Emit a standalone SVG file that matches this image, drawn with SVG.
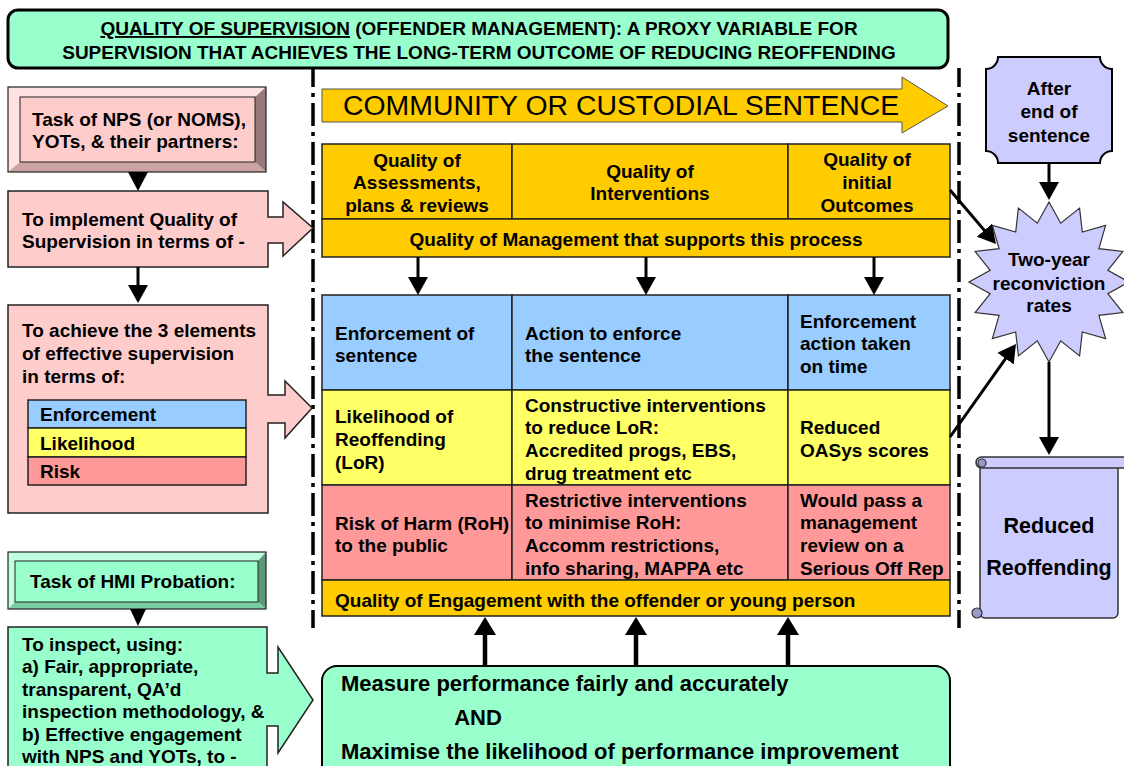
<svg xmlns="http://www.w3.org/2000/svg" width="1124" height="766" viewBox="0 0 1124 766">
<defs>
<style>
text{font-family:"Liberation Sans",Arial,Helvetica,sans-serif;font-weight:bold;font-size:19px;fill:#000}
.c{text-anchor:middle}
.big{font-size:22px}
.rr{font-size:21.5px}
.sent{font-weight:normal;font-size:28.4px}
.mint{fill:#99FFCC}
.pink{fill:#FFCCCC}
.blue{fill:#99CCFF}
.yel{fill:#FFFF66}
.red{fill:#FF9999}
.org{fill:#FFCC00}
.lav{fill:#CCCCFF}
.ol{stroke:#222;stroke-width:1.5}
.conn{stroke:#000;stroke-width:3;fill:none}
.thick{stroke-width:4.5}
.dd{stroke:#000;stroke-width:3.5;fill:none;stroke-dasharray:23 6 4 6;stroke-dashoffset:4}
</style>
<marker id="ah" markerUnits="userSpaceOnUse" viewBox="0 0 18 20" markerWidth="18" markerHeight="20" refX="12" refY="10" orient="auto"><path d="M0,0 L18,10 L0,20 Z" fill="#000"/></marker>
<marker id="ahb" markerUnits="userSpaceOnUse" viewBox="0 0 18 22" markerWidth="18" markerHeight="22" refX="12" refY="11" orient="auto"><path d="M0,0 L18,11 L0,22 Z" fill="#000"/></marker>
</defs>
<rect width="1124" height="766" fill="#fff"/>

<g id="title">
<rect x="8" y="10" width="940" height="58" rx="10" class="mint" stroke="#000" stroke-width="3"/>
<text x="479" y="35" class="c"><tspan text-decoration="underline">QUALITY OF SUPERVISION</tspan> (OFFENDER MANAGEMENT): A PROXY VARIABLE FOR</text>
<text x="479" y="59" class="c">SUPERVISION THAT ACHIEVES THE LONG-TERM OUTCOME OF REDUCING REOFFENDING</text>
</g>

<g id="dividers">
<line x1="313" y1="68" x2="313" y2="628" class="dd"/>
<line x1="959" y1="68" x2="959" y2="628" class="dd"/>
</g>

<g id="task-nps">
<rect x="20" y="97" width="235" height="65" class="pink"/>
<polygon points="8,87 266,87 255,97 20,97" fill="#FFE3E3"/>
<polygon points="8,87 20,97 20,162 8,172" fill="#FFE3E3"/>
<polygon points="266,87 266,172 255,162 255,97" fill="#997A7A"/>
<polygon points="8,172 266,172 255,162 20,162" fill="#CCA3A3"/>
<rect x="8" y="87" width="258" height="85" fill="none" stroke="#222" stroke-width="1.2"/>
<rect x="20" y="97" width="235" height="65" fill="none" stroke="#222" stroke-width="1"/>
<text x="32" y="126">Task of NPS (or NOMS),</text>
<text x="32" y="148">YOTs, &amp; their partners:</text>
</g>

<g id="implement">
<path d="M8,191 H268 V217 H283 V202 L313,228 L283,256 V243 H268 V267 H8 Z" class="pink ol"/>
<text x="22" y="226">To implement Quality of</text>
<text x="22" y="248">Supervision in terms of -</text>
</g>

<g id="achieve">
<path d="M8,305 H268 V395 H285 V381 L312,408 L285,438 V423 H268 V513 H8 Z" class="pink ol"/>
<text x="22" y="337">To achieve the 3 elements</text>
<text x="22" y="360">of effective supervision</text>
<text x="22" y="383">in terms of:</text>
<rect x="28" y="400" width="218" height="28" class="blue ol"/>
<rect x="28" y="428" width="218" height="29" class="yel ol"/>
<rect x="28" y="457" width="218" height="28" class="red ol"/>
<text x="40" y="421">Enforcement</text>
<text x="40" y="450">Likelihood</text>
<text x="40" y="478">Risk</text>
</g>

<g id="task-hmi">
<rect x="15" y="561" width="243" height="41" class="mint"/>
<polygon points="8,552 266,552 258,561 15,561" fill="#C2FFE0"/>
<polygon points="8,552 15,561 15,602 8,609" fill="#C2FFE0"/>
<polygon points="266,552 266,609 258,602 258,561" fill="#5C9979"/>
<polygon points="8,609 266,609 258,602 15,602" fill="#7ACCA3"/>
<rect x="8" y="552" width="258" height="57" fill="none" stroke="#222" stroke-width="1.2"/>
<rect x="15" y="561" width="243" height="41" fill="none" stroke="#222" stroke-width="1"/>
<text x="30" y="588">Task of HMI Probation:</text>
</g>

<g id="inspect">
<path d="M8,627 H267 V673 H278 V647 L313,700 L278,753 V726 H267 V790 H8 Z" class="mint ol"/>
<text x="22" y="651">To inspect, using:</text>
<text x="22" y="673">a) Fair, appropriate,</text>
<text x="22" y="696">transparent, QA’d</text>
<text x="22" y="718">inspection methodology, &amp;</text>
<text x="22" y="741">b) Effective engagement</text>
<text x="22" y="763">with NPS and YOTs, to -</text>
</g>

<g id="sentence">
<path d="M322,89 H902 V77 L948,106 L902,133 V122 H322 Z" class="org" stroke="#555" stroke-width="1"/>
<text x="343" y="115" class="sent">COMMUNITY OR CUSTODIAL SENTENCE</text>
</g>

<g id="quality-table">
<rect x="322" y="144" width="190" height="75" class="org ol"/>
<rect x="512" y="144" width="276" height="75" class="org ol"/>
<rect x="788" y="144" width="162" height="75" class="org ol"/>
<rect x="322" y="219" width="628" height="38" class="org ol"/>
<text x="417" y="167" class="c">Quality of</text>
<text x="417" y="189" class="c">Assessments,</text>
<text x="417" y="212" class="c">plans &amp; reviews</text>
<text x="650" y="178" class="c">Quality of</text>
<text x="650" y="200" class="c">Interventions</text>
<text x="867" y="166" class="c">Quality of</text>
<text x="867" y="189" class="c">initial</text>
<text x="867" y="212" class="c">Outcomes</text>
<text x="636" y="246" class="c">Quality of Management that supports this process</text>
</g>

<g id="elements-table">
<rect x="322" y="295" width="190" height="95" class="blue ol"/>
<rect x="512" y="295" width="276" height="95" class="blue ol"/>
<rect x="788" y="295" width="162" height="95" class="blue ol"/>
<rect x="322" y="390" width="190" height="95" class="yel ol"/>
<rect x="512" y="390" width="276" height="95" class="yel ol"/>
<rect x="788" y="390" width="162" height="95" class="yel ol"/>
<rect x="322" y="485" width="190" height="95" class="red ol"/>
<rect x="512" y="485" width="276" height="95" class="red ol"/>
<rect x="788" y="485" width="162" height="95" class="red ol"/>
<rect x="322" y="580" width="628" height="36" class="org ol"/>
<text x="335" y="340">Enforcement of</text>
<text x="335" y="362">sentence</text>
<text x="525" y="340">Action to enforce</text>
<text x="525" y="362">the sentence</text>
<text x="800" y="328">Enforcement</text>
<text x="800" y="350">action taken</text>
<text x="800" y="373">on time</text>
<text x="335" y="423">Likelihood of</text>
<text x="335" y="446">Reoffending</text>
<text x="335" y="469">(LoR)</text>
<text x="525" y="412">Constructive interventions</text>
<text x="525" y="434">to reduce LoR:</text>
<text x="525" y="457">Accredited progs, EBS,</text>
<text x="525" y="480">drug treatment etc</text>
<text x="800" y="434">Reduced</text>
<text x="800" y="457">OASys scores</text>
<text x="335" y="530">Risk of Harm (RoH)</text>
<text x="335" y="552">to the public</text>
<text x="525" y="507">Restrictive interventions</text>
<text x="525" y="529">to minimise RoH:</text>
<text x="525" y="552">Accomm restrictions,</text>
<text x="525" y="575">info sharing, MAPPA etc</text>
<text x="800" y="507">Would pass a</text>
<text x="800" y="529">management</text>
<text x="800" y="552">review on a</text>
<text x="800" y="575">Serious Off Rep</text>
<text x="335" y="607">Quality of Engagement with the offender or young person</text>
</g>

<g id="measure">
<rect x="322" y="666" width="628" height="130" rx="15" class="mint" stroke="#000" stroke-width="2"/>
<text x="341" y="691" class="big">Measure performance fairly and accurately</text>
<text x="478" y="725" class="big c">AND</text>
<text x="341" y="759" class="big">Maximise the likelihood of performance improvement</text>
</g>

<g id="after-sentence">
<path d="M998,57 H1100 A12,12 0 0 0 1112,69 V151 A12,12 0 0 0 1100,163 H998 A12,12 0 0 0 986,151 V69 A12,12 0 0 0 998,57 Z" class="lav" stroke="#000" stroke-width="2"/>
<text x="1049" y="95" class="c">After</text>
<text x="1049" y="118" class="c">end of</text>
<text x="1049" y="142" class="c">sentence</text>
</g>

<g id="reconviction">
<polygon points="1049,202 1060.7,223.2 1079.6,208.1 1082.3,232.1 1105.6,225.4 1098.9,248.7 1122.9,251.4 1107.8,270.3 1129,282 1107.8,293.7 1122.9,312.6 1098.9,315.3 1105.6,338.6 1082.3,331.9 1079.6,355.9 1060.7,340.8 1049,362 1037.3,340.8 1018.4,355.9 1015.7,331.9 992.4,338.6 999.1,315.3 975.1,312.6 990.2,293.7 969,282 990.2,270.3 975.1,251.4 999.1,248.7 992.4,225.4 1015.7,232.1 1018.4,208.1 1037.3,223.2" class="lav" stroke="#333" stroke-width="1.2"/>
<text x="1049" y="266" class="c">Two-year</text>
<text x="1049" y="290" class="c">reconviction</text>
<text x="1049" y="312" class="c">rates</text>
</g>

<g id="reduced-reoffending">
<rect x="980" y="464" width="138" height="154" rx="5" class="lav" stroke="#333" stroke-width="1.5"/>
<rect x="976" y="457" width="160" height="11" rx="5.5" class="lav" stroke="#333" stroke-width="1.5"/>
<circle cx="982" cy="463" r="4" fill="#9999CC" stroke="#333" stroke-width="1.2"/>
<circle cx="977" cy="613" r="5" fill="#9999CC" stroke="#333" stroke-width="1.2"/>
<text x="1049" y="533" class="rr c">Reduced</text>
<text x="1049" y="575" class="rr c">Reoffending</text>
</g>

<g id="connectors">
<polygon points="128,172 148,172 138,191" fill="#000"/>
<line x1="138" y1="267" x2="138" y2="297" class="conn" marker-end="url(#ah)"/>
<polygon points="130,609 146,609 138,626" fill="#000"/>
<line x1="418" y1="257" x2="418" y2="289" class="conn" marker-end="url(#ah)"/>
<line x1="646" y1="257" x2="646" y2="289" class="conn" marker-end="url(#ah)"/>
<line x1="874" y1="257" x2="874" y2="289" class="conn" marker-end="url(#ah)"/>
<line x1="485" y1="666" x2="485" y2="623" class="conn thick" marker-end="url(#ahb)"/>
<line x1="636" y1="666" x2="636" y2="623" class="conn thick" marker-end="url(#ahb)"/>
<line x1="788" y1="666" x2="788" y2="623" class="conn thick" marker-end="url(#ahb)"/>
<line x1="1049" y1="163" x2="1049" y2="194" class="conn" marker-end="url(#ah)"/>
<line x1="1049" y1="362" x2="1049" y2="449" class="conn" marker-end="url(#ah)"/>
<line x1="950" y1="190" x2="992.1" y2="239.4" class="conn" marker-end="url(#ah)"/>
<line x1="950" y1="437" x2="1012.5" y2="348.9" class="conn" marker-end="url(#ah)"/>
</g>
</svg>
